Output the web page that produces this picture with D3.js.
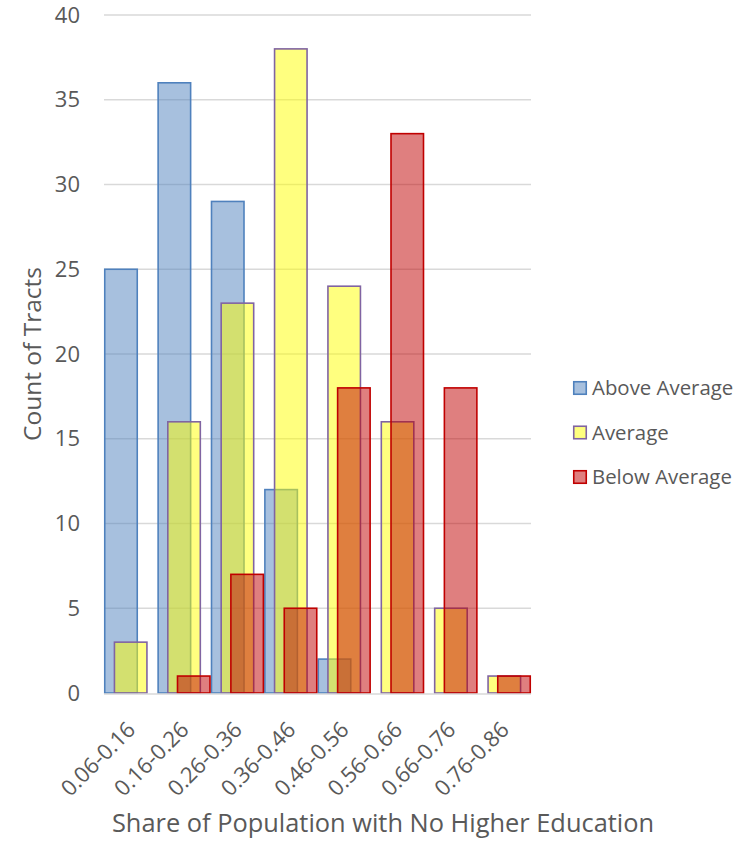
<!DOCTYPE html>
<html>
<head>
<meta charset="utf-8">
<script src="https://cdn.jsdelivr.net/npm/d3@7"></script>
<style>
  html, body { margin: 0; padding: 0; background: #fff; }
  svg { display: block; font-family: "Open Sans", "Segoe UI", sans-serif; }
</style>
</head>
<body>
<svg id="chart" width="748" height="846"></svg>
<script>
// Histogram bins of tract share without higher education
const categories = ["0.06-0.16", "0.16-0.26", "0.26-0.36", "0.36-0.46",
                    "0.46-0.56", "0.56-0.66", "0.66-0.76", "0.76-0.86"];
const seriesNames = ["Above Average", "Average", "Below Average"];
const aboveAverage = [25, 36, 29, 12, 2, 0, 0, 0];
const average      = [3, 16, 23, 38, 24, 16, 5, 1];
const belowAverage = [0, 1, 7, 5, 18, 33, 18, 1];
const yTicks = [0, 5, 10, 15, 20, 25, 30, 35, 40];

const seriesValues = [aboveAverage, average, belowAverage];
const fills   = ["rgba(79,129,189,0.5)", "rgba(255,255,0,0.5)", "rgba(192,0,0,0.5)"];
const strokes = ["#4F81BD", "#8064A2", "#C00000"];

const svg = d3.select("#chart");
const margin = { left: 104, right: 217, top: 15, bottom: 153 };
const W = 748, H = 846;
const x0 = margin.left, x1 = W - margin.right;
const yTop = margin.top, yBot = H - margin.bottom;

const x = d3.scaleBand().domain(categories).range([x0, x1]).padding(0);
const y = d3.scaleLinear().domain([0, 40]).range([yBot, yTop]);

const bw = x.bandwidth();
const barW = bw * 0.637;
const offset = (bw - barW) / 2;

// gridlines
svg.append("g")
  .selectAll("line")
  .data(yTicks.filter(t => t > 0))
  .join("line")
  .attr("x1", x0).attr("x2", x1)
  .attr("y1", d => y(d)).attr("y2", d => y(d))
  .attr("stroke", "#D9D9D9").attr("stroke-width", 1.3);

// y axis labels
const yAxis = d3.axisLeft(y).tickValues(yTicks).tickSize(0).tickPadding(24);
const gy = svg.append("g").attr("transform", `translate(${x0},0)`).call(yAxis);
gy.select(".domain").remove();
gy.selectAll("text").attr("fill", "#595959").style("font-size", "22px")
  .style("font-family", "\"Open Sans\", sans-serif");

// bars, one overlapping layer per series
seriesValues.forEach((vals, si) => {
  svg.append("g")
    .selectAll("rect")
    .data(vals.map((v, i) => ({ cat: categories[i], v })).filter(d => d.v > 0))
    .join("rect")
    .attr("x", d => x(d.cat) + si * offset + 0.75)
    .attr("width", barW - 1.5)
    .attr("y", d => y(d.v))
    .attr("height", d => y(0) - y(d.v))
    .attr("fill", fills[si])
    .attr("stroke", strokes[si])
    .attr("stroke-width", 1.6);
});

// x axis line
svg.append("line")
  .attr("x1", x0).attr("x2", x1)
  .attr("y1", yBot + 1).attr("y2", yBot + 1)
  .attr("stroke", "#D9D9D9").attr("stroke-width", 1.5);

// x axis labels rotated
const xAxis = d3.axisBottom(x).tickSize(0).tickPadding(0);
const gx = svg.append("g").attr("transform", `translate(0,${yBot})`).call(xAxis);
gx.select(".domain").remove();
gx.selectAll("text")
  .attr("fill", "#595959")
  .style("font-size", "22px")
  .style("font-family", "\"Open Sans\", sans-serif")
  .attr("text-anchor", "end")
  .attr("dy", null)
  .attr("y", 0)
  .attr("transform", "translate(6,38) rotate(-45)");

// axis titles
svg.append("text")
  .attr("transform", `translate(41,${(yTop + yBot) / 2}) rotate(-90)`)
  .attr("text-anchor", "middle")
  .attr("fill", "#595959")
  .style("font-size", "24.5px")
  .text("Count of Tracts");

svg.append("text")
  .attr("x", 383).attr("y", 832)
  .attr("text-anchor", "middle")
  .attr("fill", "#595959")
  .style("font-size", "25.4px")
  .text("Share of Population with No Higher Education");

// legend
const legend = svg.append("g").attr("transform", "translate(573,381)");
seriesNames.forEach((name, i) => {
  const row = legend.append("g").attr("transform", `translate(0,${i * 44.5})`);
  row.append("rect").attr("x", 0.75).attr("y", 0.75).attr("width", 12.5).attr("height", 12.5)
    .attr("fill", fills[i]).attr("stroke", strokes[i]).attr("stroke-width", 1.6);
  row.append("text").attr("x", 19).attr("y", 14)
    .attr("fill", "#595959").style("font-size", "20.4px").text(name);
});
</script>
</body>
</html>
